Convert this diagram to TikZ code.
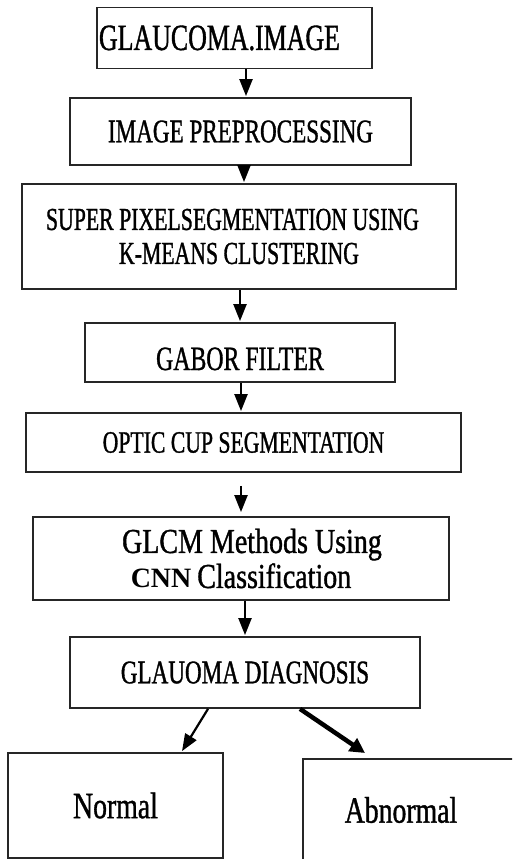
\documentclass[tikz,border=0pt]{standalone}
\usepackage{fontspec}
\setmainfont{Liberation Serif}
\newfontfamily\nara[FakeStretch=0.70,FakeBold=1]{Liberation Serif}
\newfontfamily\narc[FakeStretch=0.68,FakeBold=1]{Liberation Serif}
\newfontfamily\narm[FakeStretch=0.80,FakeBold=1]{Liberation Serif}
\newfontfamily\narn[FakeStretch=0.75,FakeBold=1]{Liberation Serif}
\usetikzlibrary{arrows.meta,calc}
\begin{document}
\begin{tikzpicture}[x=1pt,y=-1pt,
  box/.style={draw=black!85, line width=1.8pt, inner sep=0pt, align=center, fill=white},
  arr/.style={line width=2.2pt, draw=black, -{Triangle[length=17pt,width=13pt]}},
  thickarr/.style={line width=4.5pt, draw=black, -{Triangle[length=15pt,width=15pt]}}]
\useasboundingbox (0,0) rectangle (512,859);
\clip (0,0) rectangle (512,859);
\fill[white] (0,0) rectangle (512,859);

\node[box, minimum width=275pt, minimum height=61pt,
      font=\nara\fontsize{37}{40}\selectfont] (b1) at (234.5,38) {GLAUCOMA.IMAGE\hspace*{30pt}};
\node[box, minimum width=341pt, minimum height=67pt,
      font=\nara\fontsize{33}{36}\selectfont] (b2) at (240.5,131.5) {IMAGE PREPROCESSING};
\node[box, minimum width=434pt, minimum height=105pt,
      font=\narc\fontsize{32}{34}\selectfont] (b3) at (239,236.5) {SUPER PIXELSEGMENTATION USING\hspace*{13pt}\\K-MEANS CLUSTERING};
\node[box, minimum width=310pt, minimum height=59pt,
      font=\nara\fontsize{34}{36}\selectfont] (b4) at (240,352.5) {\raisebox{-6pt}[23pt][0pt]{GABOR FILTER}};
\node[box, minimum width=435pt, minimum height=59pt,
      font=\nara\fontsize{31}{34}\selectfont] (b5) at (243.5,442.5) {OPTIC CUP SEGMENTATION};
\node[box, minimum width=416pt, minimum height=83pt,
      font=\narm\fontsize{35}{35}\selectfont] (b6) at (241,558.5) {\hspace*{22pt}GLCM Methods Using\\{\rmfamily\bfseries\fontsize{28}{35}\selectfont CNN}\,Classification};
\node[box, minimum width=350pt, minimum height=71pt,
      font=\nara\fontsize{33}{36}\selectfont] (b7) at (245,672.5) {GLAUOMA DIAGNOSIS};
\node[box, minimum width=215pt, minimum height=105pt,
      font=\narn\fontsize{37}{40}\selectfont] (nor) at (115.5,805.5) {Normal};
\node[box, minimum width=260pt, minimum height=140pt, anchor=north west] (ab) at (302,758) {};
\node[font=\narn\fontsize{37}{40}\selectfont, inner sep=0pt] (abt) at (401,810) {Abnormal};

\draw[arr] ($(b1.south)+(11.5,0)$) -- ($(b2.north)+(5.5,-1)$);
\draw[arr] ($(b2.south)+(3.5,0)$) -- ($(b3.north)+(5,-1)$);
\draw[arr] ($(b3.south)+(1,0)$) -- ($(b4.north)+(0,-1)$);
\draw[arr] ($(b4.south)+(1,0)$) -- ($(b5.north)+(-2.5,-1)$);
\draw[arr] ($(b5.south)+(-2.5,13)$) -- ($(b6.north)+(0,-4)$);
\draw[arr] ($(b6.south)+(4,0)$) -- ($(b7.north)+(0,-1)$);
\draw[arr] ($(b7.south)+(-37,0)$) -- ($(nor.north)+(66.5,-1)$);
\draw[thickarr] ($(b7.south)+(55,0)$) -- ($(ab.north west)+(63,-5)$);
\end{tikzpicture}
\end{document}
